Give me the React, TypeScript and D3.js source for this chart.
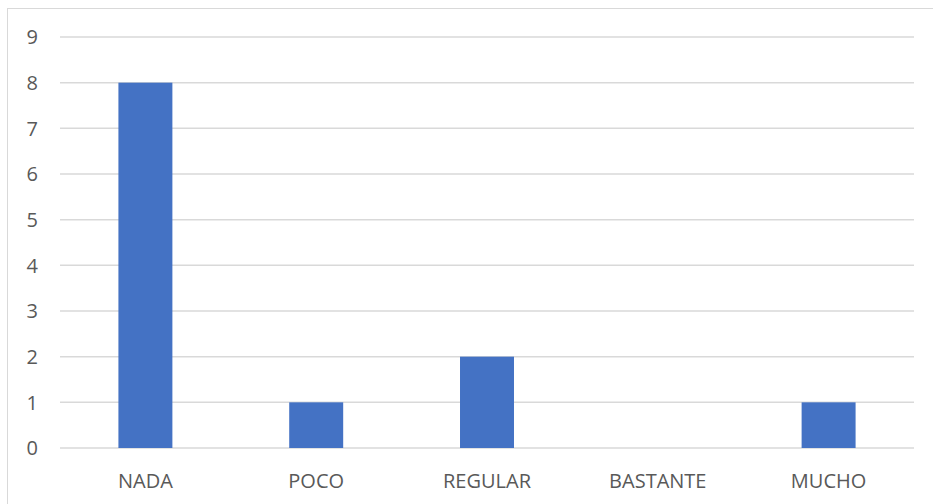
import React from 'react';
import * as d3 from 'd3';

const categories = ['NADA', 'POCO', 'REGULAR', 'BASTANTE', 'MUCHO'];
const values = [8, 1, 2, 0, 1];
const yTicks = [0, 1, 2, 3, 4, 5, 6, 7, 8, 9];

const W = 933;
const H = 504;
const margin = { top: 37, right: 19, bottom: 56, left: 60 };

const App: React.FC = () => {
  const innerW = W - margin.left - margin.right;
  const innerH = H - margin.top - margin.bottom;

  const x = d3.scaleBand<string>().domain(categories).range([0, innerW]).paddingInner(0.684).paddingOuter(0.342);
  const y = d3.scaleLinear().domain([0, 9]).range([innerH, 0]);

  const font = '"Open Sans", "Noto Sans", sans-serif';

  return (
    <svg
      width={W}
      height={H}
      style={{ position: 'absolute', left: 0, top: 0, background: '#fff' }}
    >
      {/* chart border, only left and top visible */}
      <rect x={7.5} y={8.5} width={1000} height={600} fill="#fff" stroke="#d9d9d9" strokeWidth={1} />
      <g transform={`translate(${margin.left},${margin.top})`}>
        {/* Grid */}
        {yTicks.map(t => (
          <line key={t} x1={0} x2={innerW} y1={y(t)} y2={y(t)} stroke="#d9d9d9" strokeWidth={1.5} />
        ))}
        {/* Bars */}
        {categories.map((c, i) => (
          values[i] > 0 ? (
            <rect
              key={c}
              x={x(c)}
              y={y(values[i])}
              width={x.bandwidth()}
              height={y(0) - y(values[i])}
              fill="#4472C4"
            />
          ) : null
        ))}
        {/* Y labels */}
        {yTicks.map(t => (
          <text key={t} x={-22} y={y(t)} dy="0.36em" textAnchor="end" fontFamily={font} fontSize={20} fill="#595959">
            {t}
          </text>
        ))}
        {/* X labels */}
        {categories.map(c => (
          <text key={c} x={(x(c) ?? 0) + x.bandwidth() / 2} y={innerH + 40} textAnchor="middle" fontFamily={font} fontSize={20} fill="#595959">
            {c}
          </text>
        ))}
      </g>
    </svg>
  );
};

export default App;
